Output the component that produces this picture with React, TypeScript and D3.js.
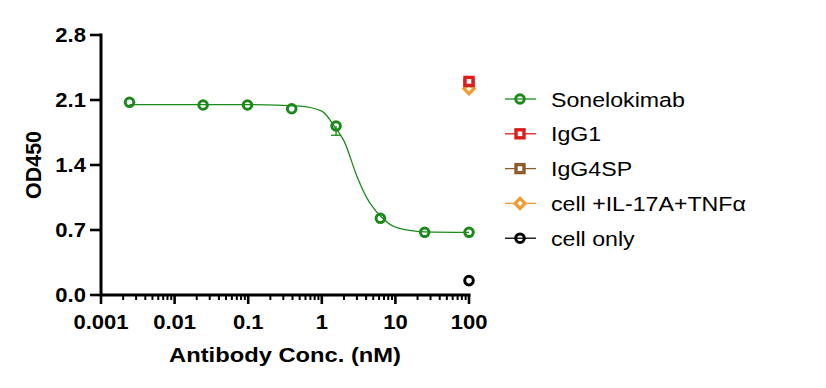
import { useEffect, useRef } from "react";
import * as d3 from "d3";

const concentrations = [0.00244, 0.0244, 0.0977, 0.39, 1.5625, 6.25, 25, 100];
const sonelokimabOD = [2.075, 2.046, 2.046, 2.006, 1.82, 0.826, 0.675, 0.675];
const sonelokimabErrLow = [null, null, null, null, 1.72, null, null, null];

// fitted curve
const fitConc = [0.00244, 0.01, 0.1, 0.5, 1.0, 1.56, 2.0, 3.0, 4.0, 5.0, 6.25, 10, 25, 100];
const fitOD = [2.05, 2.05, 2.05, 2.035, 1.98, 1.79, 1.66, 1.28, 1.06, 0.94, 0.85, 0.73, 0.68, 0.675];

const controlNames = ["IgG4SP", "cell +IL-17A+TNFα", "IgG1", "cell only"];
const controlConc = [100, 100, 100, 100];
const controlOD = [2.27, 2.22, 2.30, 0.155];

const legendNames = ["Sonelokimab", "IgG1", "IgG4SP", "cell +IL-17A+TNFα", "cell only"];
const colors: Record<string, string> = {
  Sonelokimab: "#1b8a1b",
  IgG1: "#dd1c1c",
  IgG4SP: "#8b5e2e",
  "cell +IL-17A+TNFα": "#f29a2e",
  "cell only": "#000000",
};
const shapes: Record<string, string> = {
  Sonelokimab: "circle",
  IgG1: "square",
  IgG4SP: "square",
  "cell +IL-17A+TNFα": "diamond",
  "cell only": "circle",
};

const xTicks = [0.001, 0.01, 0.1, 1, 10, 100];
const yTicks = [0, 0.7, 1.4, 2.1, 2.8];

const font = "'Liberation Sans', Arial, sans-serif";
const stretch = 1.13; // the picture is a little wider than tall

function drawMarker(g: any, shape: string, cx: number, cy: number, color: string) {
  if (shape === "circle") {
    g.append("circle")
      .attr("cx", cx).attr("cy", cy).attr("r", 4.3)
      .attr("fill", "none").attr("stroke", color).attr("stroke-width", 3);
  } else if (shape === "square") {
    g.append("rect")
      .attr("x", cx - 4).attr("y", cy - 4).attr("width", 8).attr("height", 8)
      .attr("fill", "#fff").attr("stroke", color).attr("stroke-width", 3.4);
  } else {
    g.append("path")
      .attr("d", `M${cx},${cy - 5}L${cx + 5},${cy}L${cx},${cy + 5}L${cx - 5},${cy}Z`)
      .attr("fill", "#fff").attr("stroke", color).attr("stroke-width", 3.2);
  }
}

function label(g: any, tx: number, ty: number, str: string, size: number, bold: boolean, anchor = "start") {
  g.append("text")
    .attr("transform", `translate(${tx},${ty}) scale(${stretch},1)`)
    .attr("text-anchor", anchor)
    .attr("font-family", font)
    .attr("font-weight", bold ? "bold" : "normal")
    .attr("font-size", size)
    .attr("fill", "#000")
    .text(str);
}

export default function App() {
  const ref = useRef<SVGSVGElement>(null);

  useEffect(() => {
    const width = 826;
    const height = 388;
    const margin = { top: 35, right: 357, bottom: 93, left: 101 };

    const svg = d3.select(ref.current).attr("viewBox", `0 0 ${width} ${height}`);
    svg.selectAll("*").remove();

    svg.append("rect").attr("width", width).attr("height", height).attr("fill", "#fff");

    const x = d3.scaleLog().domain([0.001, 100]).range([margin.left, width - margin.right]);
    const y = d3.scaleLinear().domain([0, 2.8]).range([height - margin.bottom, margin.top]);

    const y0 = y(0);

    // x axis
    const xa = svg.append("g");
    xa.append("line")
      .attr("x1", x(0.001)).attr("x2", x(100) + 1.5)
      .attr("y1", y0).attr("y2", y0)
      .attr("stroke", "#000").attr("stroke-width", 3);
    const minor: number[] = [];
    for (let e = -3; e < 2; e++) {
      for (let m = 2; m <= 9; m++) minor.push(m * Math.pow(10, e));
    }
    xa.selectAll(".minor").data(minor).join("line")
      .attr("x1", d => x(d)).attr("x2", d => x(d))
      .attr("y1", y0).attr("y2", y0 + 5)
      .attr("stroke", "#000").attr("stroke-width", 2);
    xa.selectAll(".major").data(xTicks).join("line")
      .attr("x1", d => x(d)).attr("x2", d => x(d))
      .attr("y1", y0).attr("y2", y0 + 9)
      .attr("stroke", "#000").attr("stroke-width", 2.6);
    xTicks.forEach(t => label(xa, x(t), y0 + 34, String(t), 19.5, true, "middle"));

    // y axis
    const ya = svg.append("g");
    ya.append("line")
      .attr("x1", margin.left).attr("x2", margin.left)
      .attr("y1", y(2.8) - 1.5).attr("y2", y0 + 1.5)
      .attr("stroke", "#000").attr("stroke-width", 3);
    ya.selectAll("line.t").data(yTicks).join("line")
      .attr("x1", margin.left - 11).attr("x2", margin.left)
      .attr("y1", d => y(d)).attr("y2", d => y(d))
      .attr("stroke", "#000").attr("stroke-width", 2.6);
    yTicks.forEach(t => label(ya, margin.left - 15, y(t) + 7, t.toFixed(1), 19.5, true, "end"));

    svg.append("text")
      .attr("transform", `translate(41,${(y(0) + y(2.8)) / 2}) rotate(-90)`)
      .attr("text-anchor", "middle")
      .attr("font-family", font).attr("font-weight", "bold").attr("font-size", 21.5)
      .text("OD450");

    label(svg, (x(0.001) + x(100)) / 2, 362, "Antibody Conc. (nM)", 21, true, "middle");

    // fitted curve
    const line = d3.line<number>()
      .x((_, i) => x(fitConc[i]))
      .y(d => y(d))
      .curve(d3.curveMonotoneX);
    svg.append("path")
      .datum(fitOD)
      .attr("fill", "none")
      .attr("stroke", colors.Sonelokimab)
      .attr("stroke-width", 1.3)
      .attr("d", line);

    // error bars
    const eg = svg.append("g");
    sonelokimabErrLow.forEach((lo, i) => {
      if (lo == null) return;
      const cx = x(concentrations[i]);
      eg.append("line")
        .attr("x1", cx).attr("x2", cx)
        .attr("y1", y(sonelokimabOD[i])).attr("y2", y(lo))
        .attr("stroke", colors.Sonelokimab).attr("stroke-width", 1.3);
      eg.append("line")
        .attr("x1", cx - 5).attr("x2", cx + 5)
        .attr("y1", y(lo)).attr("y2", y(lo))
        .attr("stroke", colors.Sonelokimab).attr("stroke-width", 1.3);
    });

    // points
    const pg = svg.append("g");
    concentrations.forEach((c, i) => {
      drawMarker(pg, "circle", x(c), y(sonelokimabOD[i]), colors.Sonelokimab);
    });
    controlNames.forEach((name, i) => {
      drawMarker(pg, shapes[name], x(controlConc[i]), y(controlOD[i]), colors[name]);
    });

    // legend
    const lg = svg.append("g");
    legendNames.forEach((name, i) => {
      const ly = 99 + i * 34.8;
      lg.append("line")
        .attr("x1", 505).attr("x2", 536)
        .attr("y1", ly).attr("y2", ly)
        .attr("stroke", colors[name]).attr("stroke-width", 1.3);
      drawMarker(lg, shapes[name], 520, ly, colors[name]);
      label(lg, 551, ly + 7.5, name, 20.5, false);
    });
  }, []);

  return (
    <svg
      ref={ref}
      width={826}
      height={388}
      style={{ position: "absolute", left: 0, top: 0, display: "block" }}
    />
  );
}
